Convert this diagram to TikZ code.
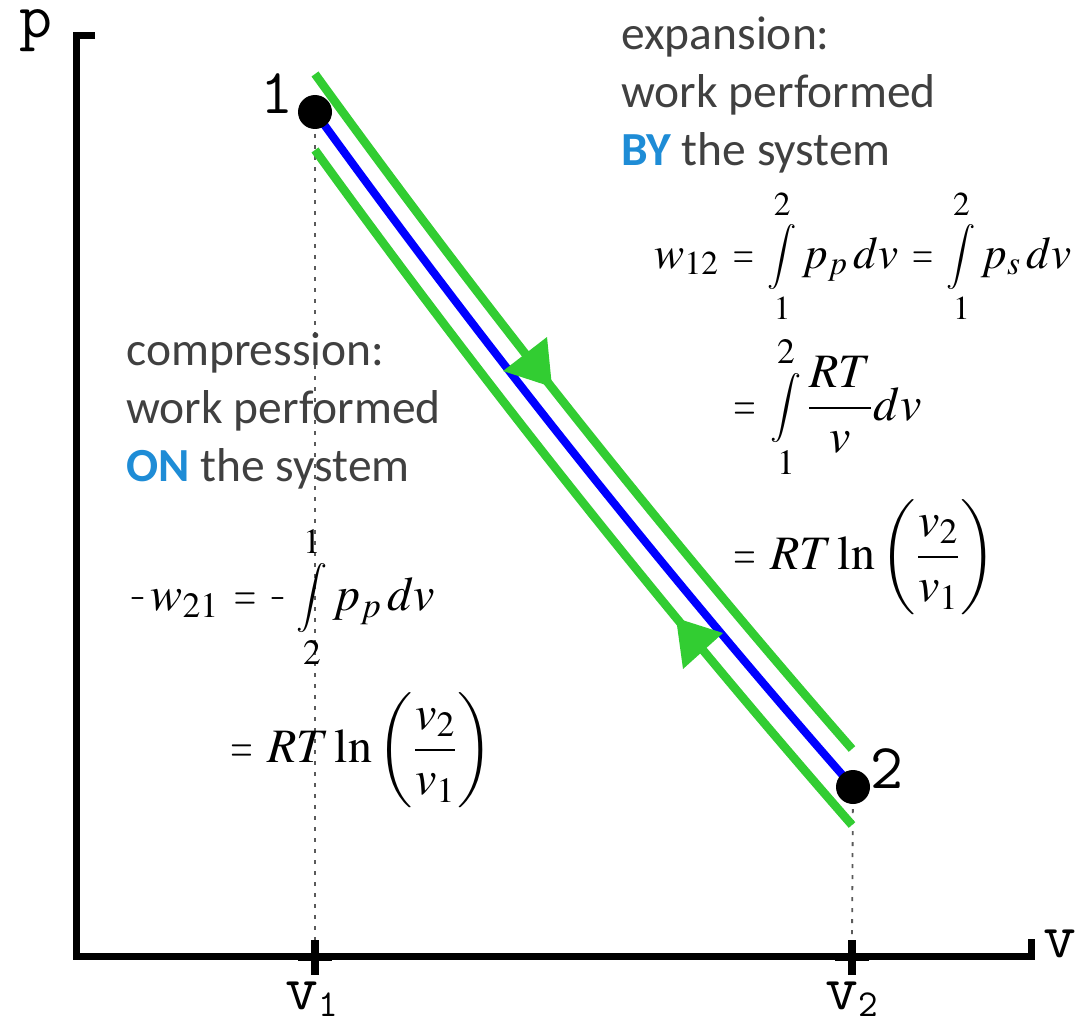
\documentclass[tikz,border=0pt]{standalone}
\usepackage{mathptmx}
\usepackage{graphicx}
\usepackage[no-math]{fontspec}
\newfontfamily\calibrifont{Carlito}
\usetikzlibrary{backgrounds}
\definecolor{txtgray}{RGB}{64,64,64}
\definecolor{kwblue}{RGB}{30,140,214}
\definecolor{lgreen}{RGB}{50,205,50}
\definecolor{dotgray}{RGB}{90,90,90}
\newcommand\myint{\mathop{\vcenter{\hbox{\scalebox{0.72}{$\displaystyle\int$}}}}\limits}
\newcommand\eqs{\mathrel{\mskip1.5mu\scalebox{0.6}[1]{$=$}\mskip1.5mu}}
\newcommand\mns{\mathord{\scalebox{0.4}[1]{$-$}}\mskip2mu}
\begin{document}
\begin{tikzpicture}[x=0.5pt,y=-0.5pt,
  axis/.style={line width=3.5pt, line join=miter, line cap=butt},
  tickmark/.style={line width=4pt},
  guide/.style={draw=dotgray, line width=0.9pt, dash pattern=on 2pt off 3.5pt},
  isoline/.style={blue, line width=4pt},
  side/.style={lgreen, line width=4.3pt},
  head/.style={fill=lgreen},
  pt/.style={circle, fill=black, minimum size=17pt, inner sep=0},
  lbl/.style={font=\ttfamily\fontsize{32}{32}\selectfont, inner sep=0},
  words/.style={font=\calibrifont\fontsize{23.75}{29}\selectfont, text=txtgray, align=left, inner sep=0},
  eq/.style={inner sep=0, font=\fontsize{24}{28}\selectfont}
]
\useasboundingbox (0,0) rectangle (1081,1022);

% axes
\draw[axis] (95,35.5) -- (76.5,35.5) -- (76.5,956.5) -- (1031.5,956.5) -- (1031.5,939);
\coordinate (t1) at (315,940);
\coordinate (t2) at (852,940);
\draw[tickmark] (t1) -- (315,975);
\draw[tickmark] (298,957) -- (332,957);
\draw[tickmark] (t2) -- (852,975);
\draw[tickmark] (835,957) -- (869,957);

% points
\node[pt] (n1) at (315,112) {};
\node[pt] (n2) at (853,787) {};

% labels
\node[lbl, anchor=base] (lp) at (36,38) {p};
\node[lbl, anchor=base] (lv) at (1060,957) {v};
\node[lbl, anchor=base] (l1) at (277,113) {1};
\node[lbl, anchor=base] (l2) at (887,788) {2};
\node[lbl, anchor=base] (lv1) at (312,1009) {v\raisebox{-3.5pt}{\fontsize{19}{19}\selectfont 1}};
\node[lbl, anchor=base] (lv2) at (852,1009) {v\raisebox{-3.5pt}{\fontsize{19}{19}\selectfont 2}};

% green offset lines
\coordinate (g1s) at (315,74);
\coordinate (g1e) at (852,749);
\coordinate (g2s) at (315,150);
\coordinate (g2e) at (852,825);

\begin{scope}[on background layer]
  \draw[guide] (n1.center) -- (t1);
  \draw[guide] (n2.center) -- (t2);
  \draw[side] (g1s) .. controls +(168.7,233.3) and +(-189.3,-216.7) .. (g1e);
  \draw[side] (g2s) .. controls +(168.7,233.3) and +(-189.3,-216.7) .. (g2e);
  \draw[isoline] (n1.center) .. controls +(168.7,233.3) and +(-190.3,-216.7) .. (n2.center);
  \fill[head] (503,371) -- (547,337) -- (552,387) -- cycle;
  \fill[head] (676,618) -- (723,633) -- (683,669) -- cycle;
\end{scope}

% text blocks
\node[words, anchor=north west] (expn) at (621,16)
  {expansion:\\work performed\\{\bfseries\color{kwblue}BY} the system};
\node[words, anchor=north west] (comp) at (126,332)
  {compression:\\work performed\\{\bfseries\color{kwblue}ON} the system};

% equations
\node[eq, anchor=base west, font=\fontsize{22.6}{27}\selectfont] (e1) at (654,268)
  {$\displaystyle w_{12} \eqs \myint_1^2 p_p\mskip2mu dv \eqs \myint_1^2 p_s\mskip2mu dv$};
\node[eq, anchor=base west] (e2) at (729,420)
  {$\displaystyle \eqs \myint_1^2 \frac{RT}{v}dv$};
\node[eq, anchor=base west] (e3) at (729,569)
  {$\displaystyle \eqs RT\ln\left(\frac{v_2}{v_1}\right)$};
\node[eq, anchor=base west] (e4) at (130,610)
  {$\displaystyle \mns w_{21} \eqs \mns\myint_2^1 p_p\,dv$};
\node[eq, anchor=base west] (e5) at (226,762)
  {$\displaystyle \eqs RT\ln\left(\frac{v_2}{v_1}\right)$};
\end{tikzpicture}
\end{document}
